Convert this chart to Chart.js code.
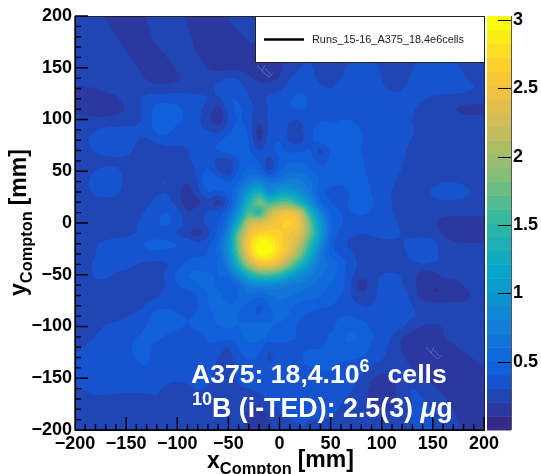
<!DOCTYPE html>
<html>
<head>
<meta charset="utf-8">
<script src="https://cdn.jsdelivr.net/npm/chart.js@4"></script>
<style>
  html, body { margin: 0; padding: 0; background: #fff; }
  canvas { display: block; }
</style>
</head>
<body>
<canvas id="myChart" width="541" height="474"></canvas>
<script>
// bin centres of the map, in mm
const xCenters = [-200,-190,-180,-170,-160,-150,-140,-130,-120,-110,-100,-90,-80,-70,-60,-50,-40,-30,-20,-10,0,10,20,30,40,50,60,70,80,90,100,110,120,130,140,150,160,170,180,190,200];
const yCenters = [200,190,180,170,160,150,140,130,120,110,100,90,80,70,60,50,40,30,20,10,0,-10,-20,-30,-40,-50,-60,-70,-80,-90,-100,-110,-120,-130,-140,-150,-160,-170,-180,-190,-200];

// map values x100, one row per yCenters entry
const zRows = [
  [25,25,24,18,16,16,17,20,25,26, 25,19,16,16,18,21,24,25,25,24, 22,22,22,24,25,25,24,22,22,23, 24,25,26,26,26,26,26,25,25,25, 25],
  [25,25,25,22,18,16,16,19,25,26, 25,20,16,16,16,18,22,24,24,24, 22,22,22,24,25,25,24,22,22,23, 24,25,26,26,26,26,26,25,25,25, 25],
  [25,25,25,25,20,17,15,17,24,26, 26,22,17,15,15,16,18,22,24,24, 22,22,24,25,25,24,23,22,23,24, 25,26,27,28,28,28,27,26,25,25, 25],
  [25,25,25,25,24,19,16,15,19,25, 26,24,18,15,15,15,16,18,20,20, 20,22,25,26,25,23,24,26,28,27, 25,26,28,30,31,31,30,28,26,25, 25],
  [25,25,25,25,25,22,17,15,15,20, 25,25,21,17,15,15,15,15,16,18, 18,23,28,30,26,22,25,30,32,31, 27,25,26,30,32,33,33,31,28,26, 25],
  [27,26,25,25,25,25,21,16,15,16, 22,25,25,19,16,16,16,16,15,17, 19,24,30,32,26,22,28,33,35,34, 29,25,24,30,33,34,34,33,29,27, 26],
  [24,25,25,25,25,25,25,19,15,15, 17,25,26,26,28,32,31,22,17,17, 19,30,36,34,27,24,30,35,37,35, 30,26,26,32,34,35,35,34,31,28, 27],
  [19,19,20,22,24,25,25,25,24,24, 25,26,26,27,33,36,35,28,24,25, 27,36,38,37,32,30,34,37,38,34, 31,30,30,34,35,35,35,34,33,31, 29],
  [15,15,16,17,18,24,28,34,36,37, 36,35,34,31,28,42,40,30,27,33, 38,40,44,40,34,33,37,40,38,34, 32,31,31,34,31,28,27,27,26,26, 25],
  [16,15,15,15,16,20,26,35,45,46, 43,37,33,27,11,36,44,34,27,30, 38,40,42,38,36,34,38,39,37,35, 33,33,33,31,27,26,24,20,16,15, 15],
  [24,23,22,22,23,25,27,34,46,47, 44,38,33,22,10,30,43,34,20,33, 38,30,30,36,40,37,40,40,38,36, 35,34,33,30,28,27,27,26,24,24, 25],
  [26,26,30,33,33,33,32,33,45,46, 36,33,33,30,24,35,47,38,12,33, 40,27,26,38,45,47,46,44,40,37, 36,34,32,31,28,27,27,27,27,27, 27],
  [26,29,34,36,36,35,31,28,33,35, 32,31,32,36,40,45,53,42,13,36, 42,26,26,39,46,48,47,45,41,38, 36,34,32,30,28,27,27,27,27,27, 27],
  [25,27,32,35,36,34,28,25,24,27, 29,30,32,38,42,46,50,42,30,38, 44,38,38,43,22,42,46,45,40,37, 36,34,32,28,26,25,25,25,25,25, 25],
  [25,25,25,26,27,27,26,24,23,24, 28,30,32,36,26,22,40,48,40,22, 42,50,50,45,36,42,47,48,42,36, 34,33,31,27,25,24,24,24,24,24, 24],
  [25,26,31,34,33,27,26,25,26,30, 28,23,33,45,28,18,42,55,52,22, 48,58,58,52,44,45,50,50,43,35, 33,32,30,26,25,25,25,25,26,25, 25],
  [25,28,35,37,36,28,25,26,30,31, 24,20,30,55,50,40,50,70,80,70, 68,75,75,65,50,44,44,50,47,38, 33,31,29,26,25,27,30,30,28,26, 25],
  [25,27,33,35,33,26,24,26,29,30, 22,14,26,42,38,45,65,100,140,70, 110,105,90,65,40,38,30,42,48,40, 33,30,28,25,25,33,37,37,35,28, 25],
  [25,25,26,26,26,25,24,28,33,34, 26,12,15,28,9,35,75,140,200,150, 170,170,130,90,50,40,38,42,46,42, 34,30,28,25,25,27,28,28,27,26, 25],
  [24,24,24,24,25,25,26,32,38,42, 35,20,26,33,35,50,90,170,120,220, 250,255,235,140,80,45,40,40,42,40, 34,30,27,25,25,25,25,25,25,25, 25],
  [22,21,22,23,24,26,30,34,40,44, 37,28,30,32,38,62,130,230,240,245, 260,270,250,175,100,50,42,37,36,37, 36,33,28,25,24,23,13,11,10,10, 12],
  [20,20,22,24,26,27,30,33,36,34, 27,22,9,28,42,75,185,245,265,270, 265,250,240,185,110,50,36,32,30,31, 33,33,30,27,26,26,18,13,11,10, 10],
  [22,24,30,34,35,35,37,43,44,44, 42,40,35,36,55,90,190,265,310,305, 270,250,215,150,85,42,32,28,27,27, 28,28,30,34,37,34,26,22,21,22, 22],
  [23,24,30,34,36,36,36,38,38,37, 37,38,38,40,52,85,175,255,300,295, 270,240,190,125,70,45,38,32,26,25, 24,24,27,35,44,34,27,26,25,25, 25],
  [24,26,33,35,36,35,30,27,26,28, 36,42,45,44,50,70,140,210,250,255, 235,190,140,95,65,60,48,36,27,26, 26,25,25,27,30,30,29,27,26,25, 25],
  [25,25,33,34,28,26,25,25,25,33, 45,52,55,52,50,55,90,130,160,165, 145,115,90,72,62,55,45,32,24,27, 31,32,30,26,12,14,25,25,25,25, 25],
  [25,25,27,26,25,25,25,25,25,31, 40,44,50,55,48,38,50,70,80,78, 75,68,65,62,55,50,45,30,9,26, 33,36,30,26,10,10,11,14,21,25, 25],
  [25,25,25,25,25,25,25,26,28,35, 38,34,40,52,55,42,52,62,50,58, 65,62,58,55,52,46,40,30,24,26, 34,41,36,27,14,10,10,12,14,22, 25],
  [25,25,25,25,25,25,25,31,37,38, 36,33,40,50,55,52,52,48,36,50, 58,52,46,44,42,40,38,34,30,30, 34,40,37,30,26,25,25,25,24,24, 24],
  [25,25,25,25,26,30,34,38,46,48, 42,40,42,44,55,55,50,44,38,48, 55,50,42,38,35,36,40,40,36,34, 35,36,35,32,28,26,25,25,25,25, 25],
  [25,25,27,32,34,35,36,40,47,48, 42,40,42,44,50,52,50,55,60,52, 48,44,38,36,36,36,46,50,46,38, 36,35,33,24,19,18,20,24,25,25, 25],
  [25,26,31,33,35,36,40,44,44,38, 35,38,38,42,46,44,48,55,58,48, 44,42,40,38,38,42,50,52,50,42, 35,30,19,15,15,16,20,24,25,25, 25],
  [26,31,34,36,36,37,43,44,36,34, 35,38,38,40,34,28,42,48,44,30, 38,38,40,40,40,42,48,50,48,38, 33,28,18,15,15,15,15,18,23,25, 25],
  [34,35,36,36,36,36,42,43,35,33, 34,37,37,37,30,25,37,42,40,26, 36,38,40,42,42,42,42,42,40,36, 32,27,22,16,15,15,15,15,17,21, 24],
  [35,36,36,36,36,36,37,41,35,33, 33,34,36,34,28,24,34,36,38,33, 36,38,40,40,42,42,38,36,35,28, 24,24,23,20,16,15,15,15,15,16, 19],
  [34,35,35,35,35,35,35,36,35,33, 32,33,33,32,27,23,32,34,35,35, 35,36,38,38,38,36,35,34,30,20, 17,18,25,25,19,16,15,15,15,15, 15],
  [28,31,34,33,33,33,33,32,32,28, 26,28,32,30,26,25,30,30,32,34, 34,35,35,36,35,35,35,32,26,18, 16,17,26,32,28,22,18,15,15,15, 15],
  [25,26,28,29,27,26,26,28,30,26, 24,25,26,26,25,25,27,26,27,32, 33,34,33,34,33,33,31,28,24,17, 15,17,25,31,31,27,22,17,15,15, 15],
  [24,24,24,25,25,25,25,25,25,25, 24,24,24,24,25,25,24,21,13,26, 31,32,32,32,32,31,30,27,24,19, 17,20,26,31,32,30,26,20,16,15, 15],
  [24,24,24,24,24,24,24,24,24,24, 24,24,24,24,24,24,23,16,9,20, 27,30,31,30,30,30,29,27,25,25, 25,26,28,31,32,31,28,23,17,15, 15],
  [24,24,24,24,24,24,24,24,24,24, 24,24,24,24,24,24,23,20,12,21, 26,29,30,30,30,29,28,27,26,26, 26,27,28,30,31,30,28,25,19,15, 15]
];

const axisTicks = [-200,-150,-100,-50,0,50,100,150,200];
const zTicks = [0.5,1,1.5,2,2.5,3];
const zMax = 3.03;
const nBands = 30;

// kBird palette stops
const birdRed = [53,15,20,6,46,135,209,254,249];
const birdGreen = [42,92,129,164,183,191,187,200,251];
const birdBlue = [135,221,214,202,164,119,89,50,14];

const FONT = '"Liberation Sans", Arial, sans-serif';

function bandColor(k) {
  const t = k / (nBands - 1) * 8;
  const i = Math.min(Math.floor(t), 7);
  const f = t - i;
  return [
    Math.round(birdRed[i] + (birdRed[i + 1] - birdRed[i]) * f),
    Math.round(birdGreen[i] + (birdGreen[i + 1] - birdGreen[i]) * f),
    Math.round(birdBlue[i] + (birdBlue[i + 1] - birdBlue[i]) * f)
  ];
}
const bands = [];
for (let k = 0; k < nBands; k++) bands.push(bandColor(k));

// light 1-8-1 smoothing so the contour edges come out round, for shading only
const last = xCenters.length - 1;
const clampIdx = i => Math.max(0, Math.min(last, i));
const smoothRows = zRows.map((row, r) => row.map((_, c) => {
  let sum = 0;
  [[-1, 1], [0, 8], [1, 1]].forEach(([dr, wr]) => {
    [[-1, 1], [0, 8], [1, 1]].forEach(([dc, wc]) => {
      sum += wr * wc * zRows[clampIdx(r + dr)][clampIdx(c + dc)];
    });
  });
  return sum / 100;
}));

// catmull-rom weights, used only to shade between bins like a contour plot
function cubic(a, b, c, d, t) {
  return b + 0.5 * t * (c - a + t * (2 * a - 5 * b + 4 * c - d + t * (3 * (b - c) + d - a)));
}
function zAt(x, y) {
  const fx = (x - xCenters[0]) / 10;
  const fy = (yCenters[0] - y) / 10;
  const ix = Math.max(0, Math.min(last - 1, Math.floor(fx)));
  const iy = Math.max(0, Math.min(last - 1, Math.floor(fy)));
  const cols = [];
  for (let r = -1; r <= 2; r++) {
    const row = smoothRows[clampIdx(iy + r)];
    cols.push(cubic(
      row[clampIdx(ix - 1)], row[ix], row[ix + 1], row[clampIdx(ix + 2)], fx - ix
    ));
  }
  return cubic(cols[0], cols[1], cols[2], cols[3], fy - iy) / 100;
}

const heatmap = {
  id: 'heatmap',
  beforeDatasetsDraw(chart) {
    const { ctx, chartArea: a, scales } = chart;
    const w = Math.round(a.right - a.left);
    const h = Math.round(a.bottom - a.top);
    const img = ctx.createImageData(w, h);
    for (let py = 0; py < h; py++) {
      const y = scales.y.getValueForPixel(a.top + py + 0.5);
      for (let px = 0; px < w; px++) {
        const x = scales.x.getValueForPixel(a.left + px + 0.5);
        const z = zAt(x, y);
        const k = Math.max(0, Math.min(nBands - 1, Math.floor(z / zMax * nBands)));
        const p = (py * w + px) * 4;
        img.data[p] = bands[k][0];
        img.data[p + 1] = bands[k][1];
        img.data[p + 2] = bands[k][2];
        img.data[p + 3] = 255;
      }
    }
    ctx.putImageData(img, Math.round(a.left), Math.round(a.top));
  }
};

function text(ctx, str, x, y, font, color, align) {
  ctx.font = font;
  ctx.fillStyle = color || '#000';
  ctx.textAlign = align || 'left';
  ctx.textBaseline = 'alphabetic';
  ctx.fillText(str, x, y);
  return ctx.measureText(str).width;
}

// the faint little scribbles that sit on the map in the original
function scribble(ctx, x, y) {
  ctx.strokeStyle = 'rgba(150,155,200,0.45)';
  ctx.lineWidth = 1;
  ctx.beginPath();
  ctx.moveTo(x, y);
  ctx.lineTo(x + 5, y + 6);
  ctx.lineTo(x + 8, y);
  ctx.moveTo(x + 5, y + 6);
  ctx.lineTo(x + 12, y + 12);
  ctx.lineTo(x + 16, y + 8);
  ctx.moveTo(x + 8, y + 3);
  ctx.lineTo(x + 13, y + 9);
  ctx.stroke();
}

const decorations = {
  id: 'decorations',
  afterDraw(chart) {
    const { ctx, chartArea: a, scales } = chart;
    const { x: xs, y: ys, z: zs } = scales;
    ctx.save();

    scribble(ctx, 257, 65);
    scribble(ctx, 426, 347);

    // colour bar
    const barL = 487, barR = 511;
    for (let k = 0; k < nBands; k++) {
      const top = zs.getPixelForValue((k + 1) / nBands * zMax);
      const bot = zs.getPixelForValue(k / nBands * zMax);
      ctx.fillStyle = 'rgb(' + bands[k].join(',') + ')';
      ctx.fillRect(barL, top, barR - barL, bot - top + 0.5);
    }
    ctx.strokeStyle = '#555';
    ctx.lineWidth = 1;
    ctx.beginPath();
    ctx.moveTo(barR + 0.5, a.top);
    ctx.lineTo(barR + 0.5, a.bottom);
    ctx.stroke();
    ctx.strokeStyle = '#000';
    ctx.beginPath();
    zTicks.forEach(v => {
      const p = Math.round(zs.getPixelForValue(v)) + 0.5;
      ctx.moveTo(498, p);
      ctx.lineTo(barR, p);
    });
    ctx.stroke();

    // frame and inward ticks
    ctx.strokeStyle = '#222';
    ctx.strokeRect(a.left + 0.5, a.top + 0.5, a.right - a.left, a.bottom - a.top);
    ctx.strokeStyle = '#000';
    ctx.lineWidth = 1.4;
    ctx.beginPath();
    ctx.moveTo(a.left, a.top);
    ctx.lineTo(a.left, a.bottom);
    ctx.lineTo(a.right, a.bottom);
    for (let v = -200; v <= 200; v += 10) {
      const len = v % 50 === 0 ? 13 : 6;
      const px = xs.getPixelForValue(v);
      const py = ys.getPixelForValue(v);
      ctx.moveTo(px, a.bottom);
      ctx.lineTo(px, a.bottom - len);
      ctx.moveTo(a.left, py);
      ctx.lineTo(a.left + len, py);
    }
    ctx.stroke();

    // legend box
    ctx.fillStyle = '#fff';
    ctx.fillRect(255, 16, 230, 47);
    ctx.strokeStyle = '#222';
    ctx.lineWidth = 1;
    ctx.strokeRect(255.5, 16.5, 229, 46);
    ctx.strokeStyle = '#000';
    ctx.lineWidth = 2.4;
    ctx.beginPath();
    ctx.moveTo(264, 39.5);
    ctx.lineTo(304, 39.5);
    ctx.stroke();
    text(ctx, 'Runs_15-16_A375_18.4e6cells', 312, 43, '10.9px ' + FONT, '#222');

    // axis titles
    const bold = s => 'bold ' + s + 'px ' + FONT;
    let cx = 207;
    cx += text(ctx, 'x', cx, 468, bold(23));
    cx += text(ctx, 'Compton', cx, 474, bold(16.4));
    text(ctx, '[mm]', cx + 6, 467, bold(23));

    ctx.save();
    ctx.translate(26, 296);
    ctx.rotate(-Math.PI / 2);
    cx = 0;
    cx += text(ctx, 'y', cx, 0, bold(23));
    cx += text(ctx, 'Compton', cx, 6, bold(16.4));
    text(ctx, '[mm]', cx + 6, 0, bold(23));
    ctx.restore();

    // annotation
    cx = 191;
    cx += text(ctx, 'A375: 18,4.10', cx, 383, bold(26.6), '#fff');
    cx += text(ctx, '6', cx, 372, bold(18), '#fff');
    text(ctx, 'cells', cx + 18, 383, bold(26.6), '#fff');
    cx = 192;
    cx += text(ctx, '10', cx, 405, bold(18), '#fff');
    cx += text(ctx, 'B (i-TED): 2.5(3) ', cx, 417, bold(26.8), '#fff');
    cx += text(ctx, '\u03bc', cx, 417, 'italic ' + bold(26.8), '#fff');
    text(ctx, 'g', cx, 417, bold(26.8), '#fff');

    ctx.restore();
  }
};

const gridPoints = [];
yCenters.forEach((y, r) => xCenters.forEach((x, c) => gridPoints.push({ x, y, v: zRows[r][c] / 100 })));

const minus = v => String(v).replace('-', '\u2212');
const tickFont = { family: FONT, size: 18, weight: 'bold' };
// the tick padding must not push the plot area in
const noPad = s => { s.paddingTop = 0; s.paddingBottom = 0; s.paddingLeft = 0; s.paddingRight = 0; };

new Chart(document.getElementById('myChart'), {
  type: 'scatter',
  data: { datasets: [{ label: 'Runs_15-16_A375_18.4e6cells', data: gridPoints, pointRadius: 0 }] },
  options: {
    responsive: false,
    animation: false,
    layout: { padding: { top: 16, left: 0, right: 0, bottom: 0 } },
    plugins: { legend: { display: false }, tooltip: { enabled: false } },
    events: [],
    scales: {
      x: {
        type: 'linear', min: -200, max: 200,
        grid: { display: false, drawTicks: false }, border: { display: false },
        afterBuildTicks: s => { s.ticks = axisTicks.map(value => ({ value })); },
        afterFit: s => { s.height = 44; noPad(s); },
        ticks: { color: '#000', font: tickFont, padding: 3, maxRotation: 0, autoSkip: false, callback: minus }
      },
      y: {
        type: 'linear', min: -200, max: 200, position: 'left',
        grid: { display: false, drawTicks: false }, border: { display: false },
        afterBuildTicks: s => { s.ticks = axisTicks.map(value => ({ value })); },
        afterFit: s => { s.width = 75; noPad(s); },
        ticks: { color: '#000', font: tickFont, padding: 3, autoSkip: false, callback: minus }
      },
      z: {
        type: 'linear', min: 0, max: zMax, position: 'right',
        grid: { display: false, drawTicks: false }, border: { display: false },
        afterBuildTicks: s => { s.ticks = zTicks.map(value => ({ value })); },
        afterFit: s => { s.width = 57; noPad(s); },
        ticks: { color: '#000', font: tickFont, padding: 29, autoSkip: false, callback: v => String(v) }
      }
    }
  },
  plugins: [heatmap, decorations]
});
</script>
</body>
</html>
